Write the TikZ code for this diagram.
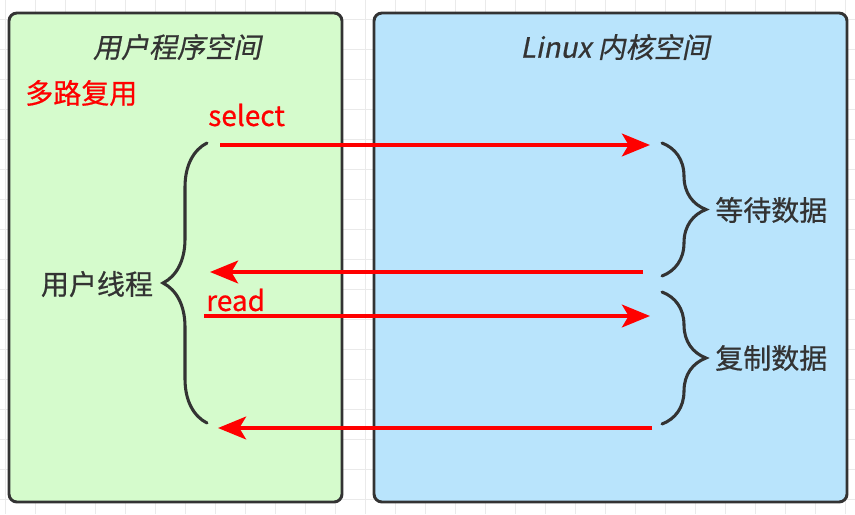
\documentclass[tikz,border=0pt]{standalone}
\usepackage{fontspec}
\setmainfont{Noto Sans CJK SC}[FakeBold=0.6]
\newfontfamily\slantcjk{Noto Sans CJK SC}[FakeSlant=0.2,FakeBold=0.6]
\usetikzlibrary{arrows.meta,decorations.pathreplacing}
\definecolor{userfill}{RGB}{213,251,204}
\definecolor{kernelfill}{RGB}{185,228,252}
\definecolor{edgegray}{RGB}{51,51,51}
\definecolor{gridgray}{RGB}{234,234,234}
\definecolor{callred}{RGB}{255,0,0}

\begin{document}
\begin{tikzpicture}[x=0.75pt,y=-0.75pt,
    every node/.style={inner sep=0pt, font=\fontsize{21}{25}\selectfont},
    gridline/.style={draw=gridgray, line width=0.75pt},
    space/.style={draw=edgegray, line width=2.2pt, rounded corners=6pt},
    call/.style={draw=callred, line width=3pt, -{Stealth[length=21pt,width=17pt,inset=5pt]}},
    curly/.style={draw=edgegray, line width=2.3pt, line cap=round, decorate, decoration={brace, amplitude=33pt}},
    darktext/.style={text=edgegray},
    redtext/.style={text=callred}]
    \fill[white] (0,0) rectangle (855,514);
    \useasboundingbox (0,0) rectangle (855,514);
    \foreach \gx in {5,35,...,845} \draw[gridline] (\gx,0) -- (\gx,514);
    \foreach \gy in {19,49,...,499} \draw[gridline] (0,\gy) -- (855,\gy);

    \filldraw[space, fill=userfill] (9,13) rectangle (342,502);
    \filldraw[space, fill=kernelfill] (374,13) rectangle (847,502);

    \node[darktext] (usertitle) at (177,47) {\slantcjk 用户程序空间};
    \node[darktext] (kerneltitle) at (615,47) {\slantcjk Linux 内核空间};
    \node[redtext, anchor=west] (mux) at (25,93) {多路复用};
    \node[redtext, anchor=west] (sel) at (208,115) {select};
    \node[redtext, anchor=west] (rd) at (206,300) {read};
    \node[darktext] (thread) at (97,284) {用户线程};
    \node[darktext, anchor=west] (wait) at (715,210) {等待数据};
    \node[darktext, anchor=west] (copy) at (715,358) {复制数据};

    \coordinate (threadbot) at (207,423);
    \coordinate (threadtop) at (207,143);
    \coordinate (waittop) at (662,143);
    \coordinate (waitbot) at (662,276);
    \coordinate (copytop) at (662,292);
    \coordinate (copybot) at (662,424);
    \draw[curly] (threadbot) -- (threadtop);
    \draw[curly] (waittop) -- (waitbot);
    \draw[curly] (copytop) -- (copybot);

    \coordinate (selfrom) at (220,145);
    \coordinate (selto) at (650,145);
    \coordinate (readyfrom) at (643,272);
    \coordinate (readyto) at (210,272);
    \coordinate (rdfrom) at (204,316);
    \coordinate (rdto) at (650,316);
    \coordinate (donefrom) at (652,428);
    \coordinate (doneto) at (218,428);
    \draw[call] (selfrom) -- (selto);
    \draw[call] (readyfrom) -- (readyto);
    \draw[call] (rdfrom) -- (rdto);
    \draw[call] (donefrom) -- (doneto);
\end{tikzpicture}
\end{document}
